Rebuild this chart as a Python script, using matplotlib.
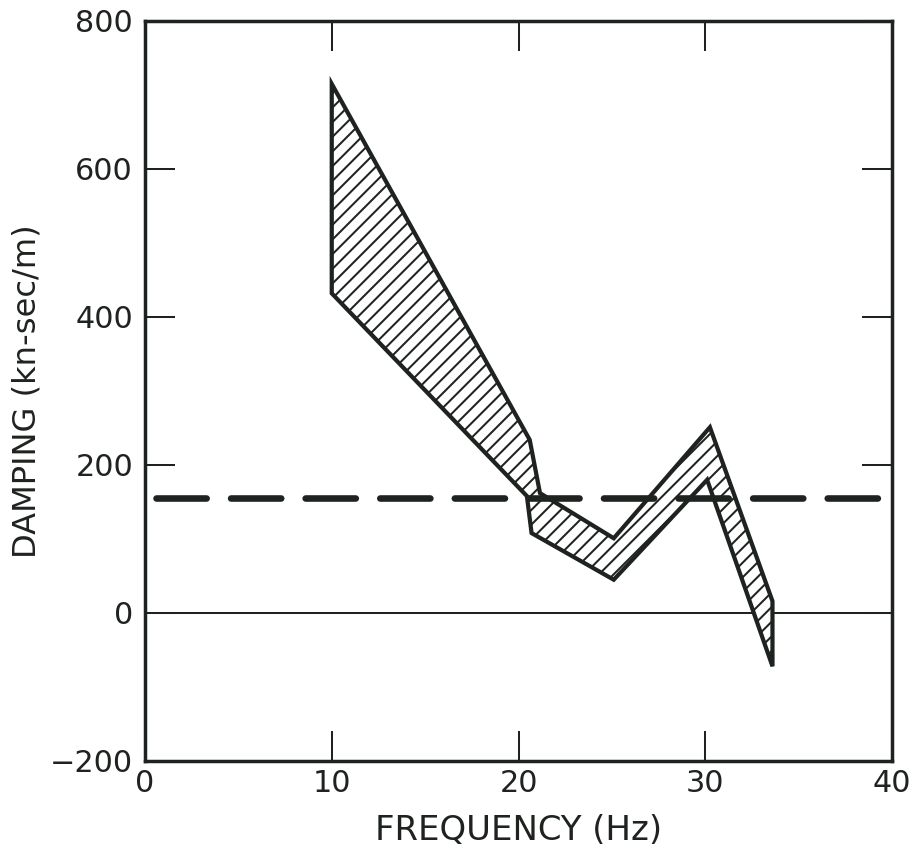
import numpy as np
import matplotlib
matplotlib.use("Agg")
import matplotlib.pyplot as plt

# upper and lower edges of the measured damping band
freq_upper = [10.0, 20.6, 21.15, 25.1, 30.25, 33.6]
damp_upper = [715, 234, 162, 101, 251, 16]
freq_lower = [10.0, 20.45, 20.7, 25.1, 30.1, 33.6]
damp_lower = [432, 158, 108, 45, 180, -72]

# constant damping used in the design model
freq_design = [0.6, 39.5]
damp_design = [155, 155]

x_ticks = [0, 10, 20, 30, 40]
y_ticks = [-200, 0, 200, 400, 600, 800]

INK = "#1f231f"
DPI = 132

plt.rcParams["hatch.linewidth"] = 1.1
plt.rcParams["hatch.color"] = INK
plt.rcParams["font.family"] = ["DejaVu Sans"]

fig = plt.figure(figsize=(915 / DPI, 847 / DPI), dpi=DPI)
ax = fig.add_axes([145 / 915, 1 - 761 / 847, (892 - 145) / 915, (761 - 21) / 847])

# band polygon: go out along the upper edge, come back along the lower one
band_x = np.concatenate([freq_upper, freq_lower[::-1]])
band_y = np.concatenate([damp_upper, damp_lower[::-1]])
ax.fill(band_x, band_y, facecolor="white", edgecolor=INK, hatch="///",
        linewidth=2.3, joinstyle="miter", zorder=3)

ax.plot(freq_design, damp_design, color=INK, linewidth=3.6,
        dashes=(7.6, 3.7), dash_capstyle="round", zorder=4)

ax.axhline(0, color=INK, linewidth=1.1, zorder=2)

ax.set_xlim(0, 40)
ax.set_ylim(-200, 800)
ax.set_xticks(x_ticks)
ax.set_yticks(y_ticks)
ax.set_yticklabels(["\u2212200", "0", "200", "400", "600", "800"])

for sp in ax.spines.values():
    sp.set_linewidth(1.9)
    sp.set_color(INK)

ax.tick_params(axis="both", direction="in", length=16.5, width=1.1,
               color=INK, labelcolor=INK, labelsize=16.5)
ax.tick_params(axis="x", top=True, pad=4.5)
ax.tick_params(axis="y", right=True, pad=6.5)

ax.set_xlabel("FREQUENCY (Hz)", fontsize=18.5, color=INK, labelpad=8.5)
ax.set_ylabel("DAMPING (kn-sec/m)", fontsize=17.5, color=INK, labelpad=4)

fig.savefig("out.png", dpi=DPI, facecolor="white")
